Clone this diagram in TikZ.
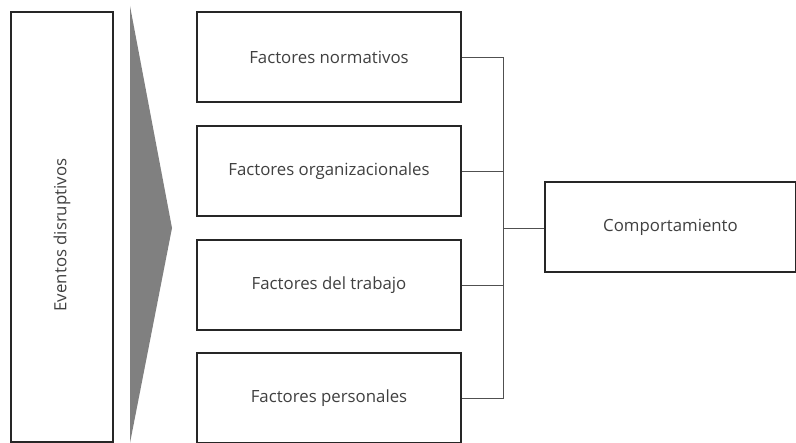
\documentclass[tikz,border=0pt]{standalone}
\usepackage{fontspec}
\setmainfont{Open Sans}
\definecolor{txt}{HTML}{404040}
\definecolor{wire}{HTML}{505050}
\definecolor{wedge}{HTML}{808080}
\begin{document}
\begin{tikzpicture}[x=1pt,y=-1pt,
  label font/.style={font=\fontsize{16.8}{20}\selectfont,text=txt},
  box/.style={draw=black!85,line width=1.2pt,fill=white,inner sep=0pt,label font},
  wireline/.style={draw=wire,line width=0.8pt}]
\useasboundingbox (0,0) rectangle (796,443);
% left column
\node[box,minimum width=102pt,minimum height=430pt] (ev) at (62,227) {};
\node[label font,rotate=90] (evt) at (62,235) {Eventos disruptivos};
% grey wedge
\fill[wedge] (130,6) -- (172,228) -- (130,443) -- cycle;
% factor boxes
\node[box,minimum width=264pt,minimum height=90pt] (f1) at (329,57) {Factores normativos};
\node[box,minimum width=264pt,minimum height=90pt] (f2) at (329,171) {Factores organizacionales};
\node[box,minimum width=264pt,minimum height=90pt] (f3) at (329,285) {Factores del trabajo};
\node[box,minimum width=264pt,minimum height=90pt] (f4) at (329,398) {Factores personales};
% result box
\node[box,minimum width=251pt,minimum height=90pt] (cp) at (670.5,227) {Comportamiento};
% bracket connectors
\coordinate (j) at (503,228);
\draw[wireline] (f1.east) -| (j);
\draw[wireline] (f2.east) -| (j);
\draw[wireline] (f3.east) -| (j);
\draw[wireline] (f4.east) -| (j);
\draw[wireline] (j) -- (cp.west |- j);
\end{tikzpicture}
\end{document}
